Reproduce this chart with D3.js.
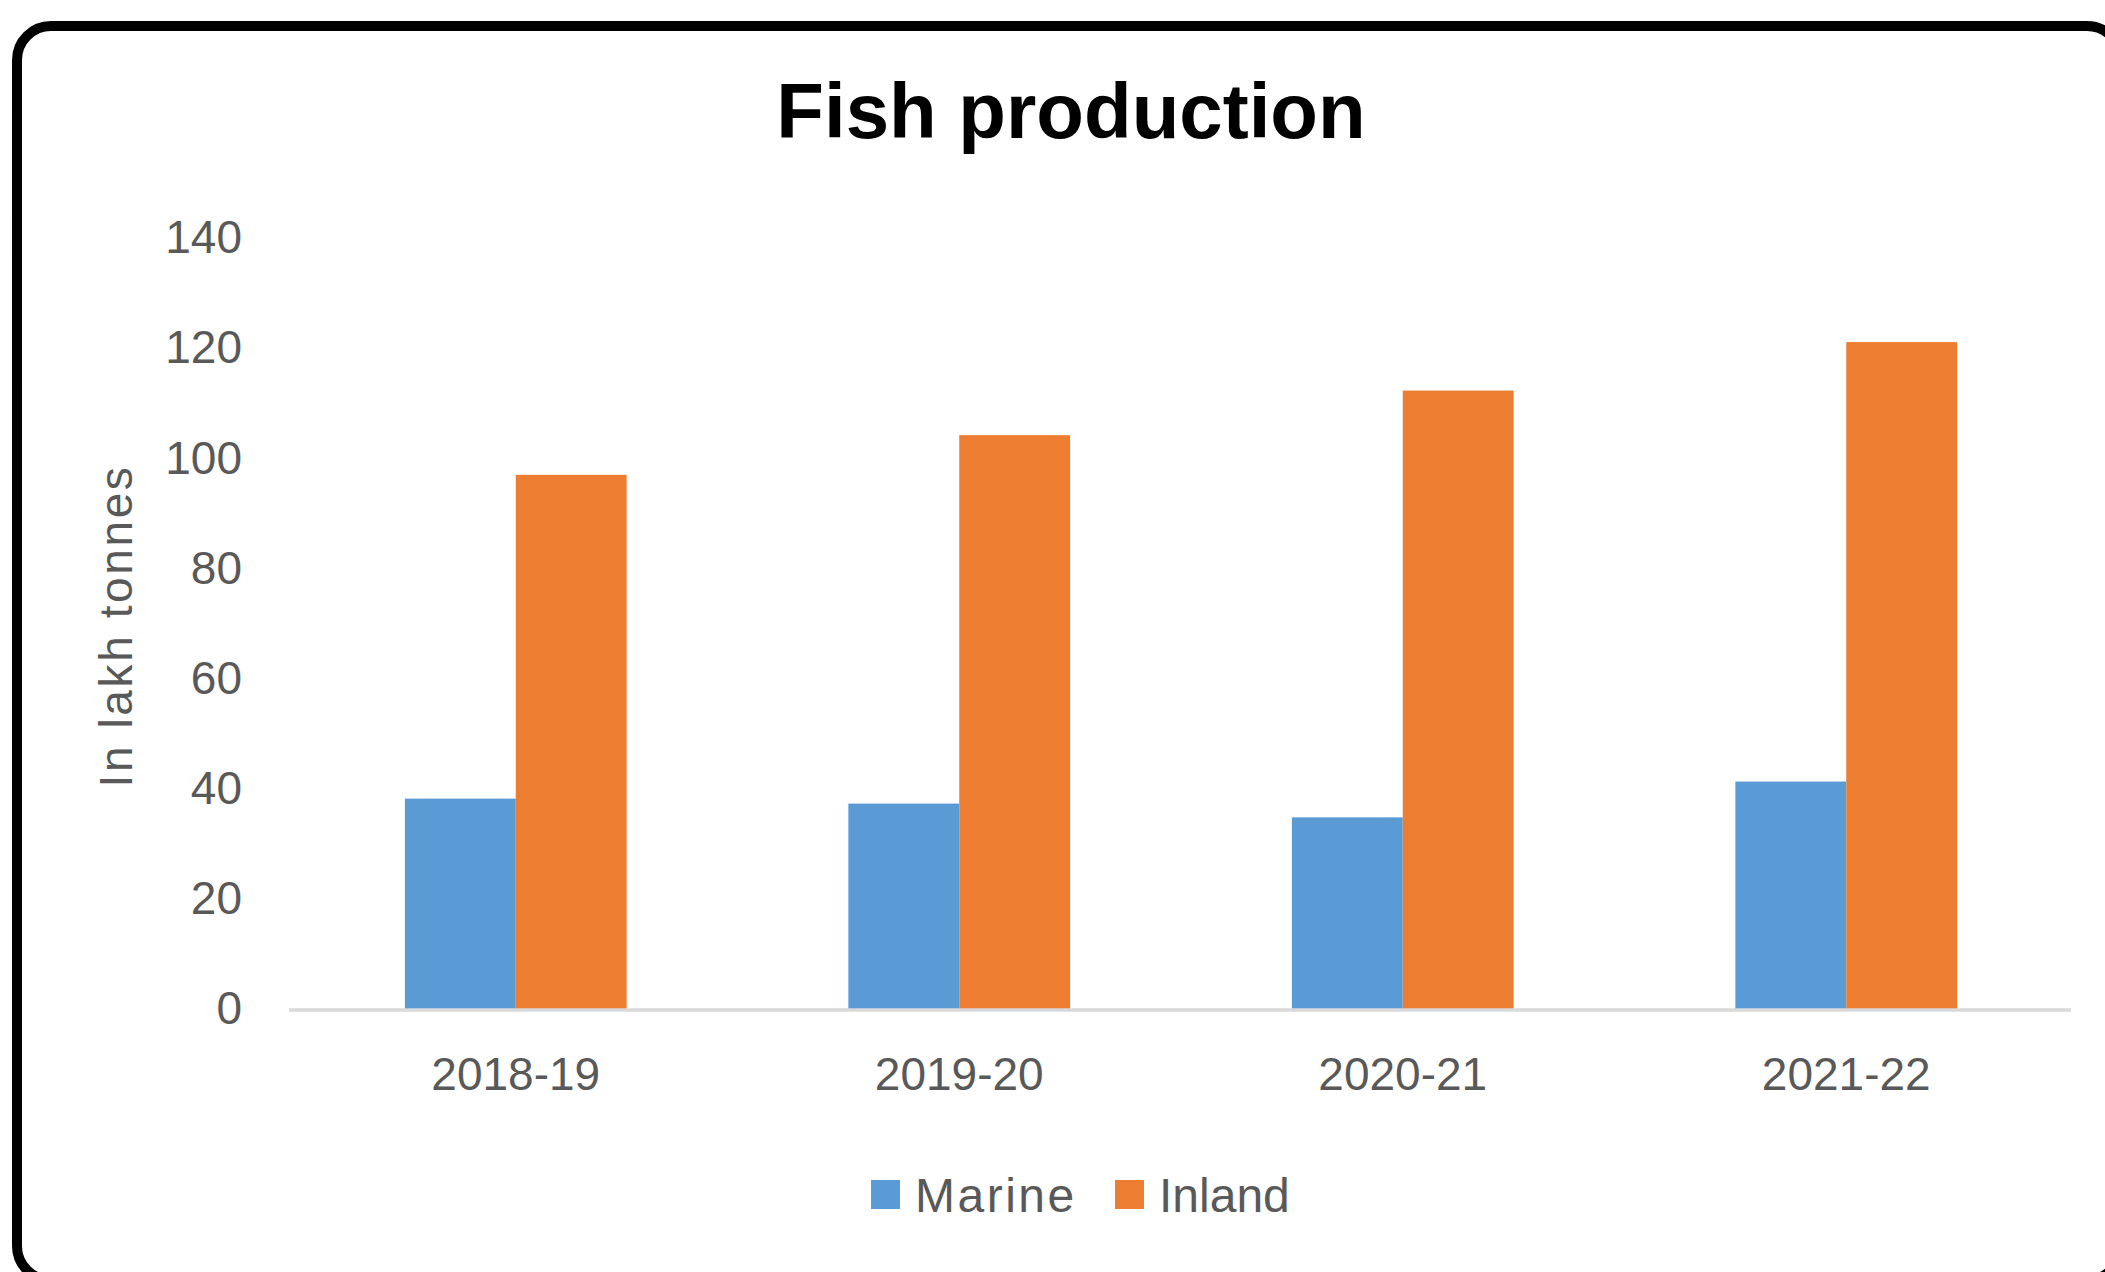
<!DOCTYPE html>
<html>
<head>
<meta charset="utf-8">
<script src="https://cdn.jsdelivr.net/npm/d3@7"></script>
<style>
  html, body { margin: 0; padding: 0; background: #ffffff; }
  svg { display: block; }
</style>
</head>
<body>
<svg id="chart" width="2105" height="1272"></svg>
<script>
// ---- data ----
const categories = ["2018-19", "2019-20", "2020-21", "2021-22"];
const seriesNames = ["Marine", "Inland"];
const marine = [38.2, 37.3, 34.8, 41.3];
const inland = [97.0, 104.2, 112.3, 121.1];
const yTicks = [0, 20, 40, 60, 80, 100, 120, 140];
const seriesColors = ["#5b9bd5", "#ed7d31"];
const titleText = "Fish production";
const yAxisTitle = "In lakh tonnes";

const seriesValues = [marine, inland];

const svg = d3.select("#chart");
const W = 2105, H = 1272;
const font = "'Liberation Sans', Arial, sans-serif";
const textColor = "#595959";

// background + rounded frame
svg.append("rect").attr("x", 0).attr("y", 0).attr("width", W).attr("height", H).attr("fill", "#fff");
svg.append("rect")
  .attr("x", 17).attr("y", 26).attr("width", 2104).attr("height", 1254)
  .attr("rx", 34).attr("ry", 34)
  .attr("fill", "#fff").attr("stroke", "#000").attr("stroke-width", 10);

// scales
const x = d3.scaleBand().domain(categories).range([294, 2068]).paddingInner(0).paddingOuter(0);
const xSub = d3.scaleBand().domain(seriesNames).range([0, x.bandwidth()]).paddingInner(0).paddingOuter(1);
const y = d3.scaleLinear().domain([0, 140]).range([1009, 238]);
const color = d3.scaleOrdinal().domain(seriesNames).range(seriesColors);

// title
svg.append("text")
  .attr("x", 1071).attr("y", 138)
  .attr("text-anchor", "middle")
  .attr("font-family", font).attr("font-weight", "bold").attr("font-size", 78)
  .attr("fill", "#000")
  .text(titleText);

// y axis (labels only)
const yAxis = svg.append("g")
  .attr("transform", "translate(242,0)")
  .call(d3.axisLeft(y).tickValues(yTicks).tickSize(0).tickPadding(0));
yAxis.select(".domain").remove();
yAxis.selectAll("text")
  .attr("font-family", font).attr("font-size", 46).attr("fill", textColor);

// y axis title
svg.append("text")
  .attr("transform", "translate(132,626) rotate(-90)")
  .attr("text-anchor", "middle")
  .attr("font-family", font).attr("font-size", 46).attr("fill", textColor)
  .attr("letter-spacing", 2.6)
  .text(yAxisTitle);

// bars
const groups = svg.append("g").selectAll("g")
  .data(categories)
  .join("g")
  .attr("transform", d => `translate(${x(d)},0)`);

groups.selectAll("rect")
  .data((d, i) => seriesNames.map((s, k) => ({ series: s, value: seriesValues[k][i] })))
  .join("rect")
  .attr("x", d => xSub(d.series))
  .attr("width", xSub.bandwidth())
  .attr("y", d => y(d.value))
  .attr("height", d => y(0) - y(d.value))
  .attr("fill", d => color(d.series));

// baseline
svg.append("line")
  .attr("x1", x.range()[0] - 5).attr("x2", x.range()[1] + 3)
  .attr("y1", y(0) + 1).attr("y2", y(0) + 1)
  .attr("stroke", "#d9d9d9").attr("stroke-width", 3.5);

// x axis labels
const xAxis = svg.append("g")
  .attr("transform", `translate(0,${y(0) + 1})`)
  .call(d3.axisBottom(x).tickSize(0).tickPadding(47));
xAxis.select(".domain").remove();
xAxis.selectAll("text")
  .attr("font-family", font).attr("font-size", 46).attr("fill", textColor);

// legend
const legendX = [871, 1115];
const legendSpacing = [2.5, 0];
const legend = svg.append("g").attr("transform", "translate(0,1195)");
const items = legend.selectAll("g")
  .data(seriesNames)
  .join("g")
  .attr("transform", (d, i) => `translate(${legendX[i]},0)`);
items.append("rect")
  .attr("x", 0).attr("y", -15).attr("width", 29).attr("height", 29)
  .attr("fill", d => color(d));
items.append("text")
  .attr("x", 44).attr("y", 0).attr("dy", "0.35em")
  .attr("font-family", font).attr("font-size", 48).attr("fill", textColor)
  .attr("letter-spacing", (d, i) => legendSpacing[i])
  .text(d => d);
</script>
</body>
</html>
